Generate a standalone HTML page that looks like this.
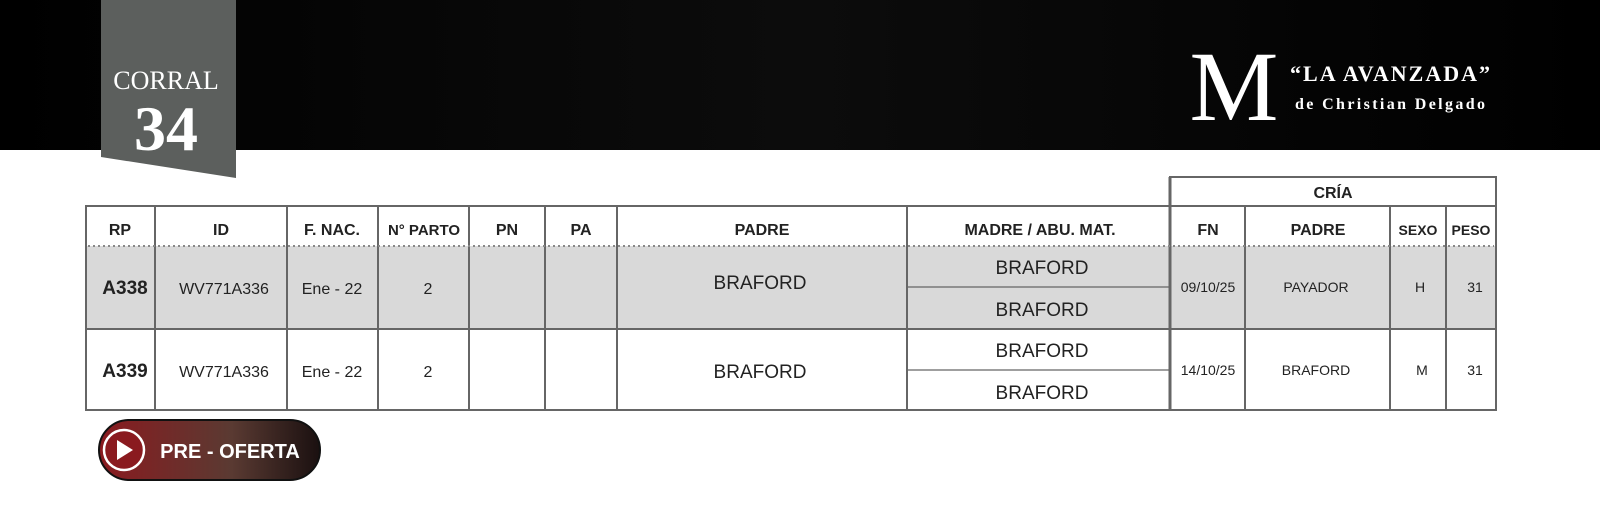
<!DOCTYPE html>
<html><head><meta charset="utf-8"><style>
body{margin:0;width:1600px;height:512px;overflow:hidden;background:#fff}
svg{display:block}
.h{font-family:"Liberation Sans",sans-serif;font-weight:bold;font-size:16px;fill:#222;text-anchor:middle}
.c{font-family:"Liberation Sans",sans-serif;font-size:16px;fill:#222;text-anchor:middle}
</style></head><body>
<svg width="1600" height="512" viewBox="0 0 1600 512">
<defs>
<linearGradient id="bg" x1="0" x2="1"><stop offset="0" stop-color="#000"/><stop offset="0.5" stop-color="#0c0c0c"/><stop offset="1" stop-color="#000"/></linearGradient>
<linearGradient id="bt" x1="0" x2="1"><stop offset="0" stop-color="#8a1a1f"/><stop offset="0.6" stop-color="#5a3a32"/><stop offset="1" stop-color="#1a1010"/></linearGradient>
</defs>
<rect x="0" y="0" width="1600" height="150" fill="url(#bg)"/>
<polygon points="101,0 236,0 236,178 101,157" fill="#5c5f5d"/>
<text x="166" y="89" font-family="Liberation Serif,serif" font-size="26" fill="#fff" text-anchor="middle">CORRAL</text>
<text x="166" y="150" font-family="Liberation Serif,serif" font-size="64" font-weight="bold" fill="#fff" text-anchor="middle">34</text>
<text x="1234" y="120" font-family="Liberation Serif,serif" font-size="100" fill="#fff" text-anchor="middle">M</text>
<text x="1390" y="81" font-family="Liberation Serif,serif" font-size="22" font-weight="bold" fill="#fff" text-anchor="middle" textLength="200">“LA AVANZADA”</text>
<text x="1390" y="109" font-family="Liberation Serif,serif" font-size="16" font-weight="bold" fill="#fff" text-anchor="middle" textLength="190">de Christian Delgado</text>
<rect x="86" y="246" width="1084" height="83" fill="#d9d9d9"/>
<rect x="1170" y="246" width="326" height="83" fill="#d9d9d9"/>
<g stroke="#666" stroke-width="2" fill="none">
<rect x="86" y="206" width="1410" height="204"/>
<rect x="1170" y="177" width="326" height="29"/>
<line x1="86" y1="329" x2="1496" y2="329"/>
<line x1="155" y1="206" x2="155" y2="410"/><line x1="287" y1="206" x2="287" y2="410"/>
<line x1="378" y1="206" x2="378" y2="410"/><line x1="469" y1="206" x2="469" y2="410"/>
<line x1="545" y1="206" x2="545" y2="410"/><line x1="617" y1="206" x2="617" y2="410"/>
<line x1="907" y1="206" x2="907" y2="410"/><line x1="1245" y1="206" x2="1245" y2="410"/>
<line x1="1390" y1="206" x2="1390" y2="410"/><line x1="1446" y1="206" x2="1446" y2="410"/>
<line x1="907" y1="287" x2="1170" y2="287" stroke-width="1.3"/>
<line x1="907" y1="370" x2="1170" y2="370" stroke-width="1.3"/>
</g>
<line x1="1170" y1="177" x2="1170" y2="410" stroke="#666" stroke-width="3"/>
<line x1="88" y1="246" x2="1494" y2="246" stroke="#888" stroke-width="2" stroke-dasharray="2,3"/>
<text class="h" x="1333" y="198">CRÍA</text>
<text class="h" x="120" y="235">RP</text><text class="h" x="221" y="235">ID</text>
<text class="h" x="332" y="235">F. NAC.</text><text class="h" x="424" y="235" font-size="15" style="font-size:15px">N° PARTO</text>
<text class="h" x="507" y="235">PN</text><text class="h" x="581" y="235">PA</text>
<text class="h" x="762" y="235">PADRE</text><text class="h" x="1040" y="235">MADRE / ABU. MAT.</text>
<text class="h" x="1208" y="235">FN</text><text class="h" x="1318" y="235">PADRE</text>
<text class="h" x="1418" y="235" style="font-size:14px">SEXO</text><text class="h" x="1471" y="235" style="font-size:14px">PESO</text>
<text class="h" x="125" y="294" style="font-size:19px">A338</text>
<text class="c" x="224" y="294">WV771A336</text>
<text class="c" x="332" y="294">Ene - 22</text>
<text class="c" x="428" y="294">2</text>
<text class="c" x="760" y="289" style="font-size:19px">BRAFORD</text>
<text class="c" x="1042" y="274" style="font-size:19px">BRAFORD</text>
<text class="c" x="1042" y="316" style="font-size:19px">BRAFORD</text>
<text class="c" x="1208" y="292" style="font-size:14px">09/10/25</text>
<text class="c" x="1316" y="292" style="font-size:14px">PAYADOR</text>
<text class="c" x="1420" y="292" style="font-size:14px">H</text>
<text class="c" x="1475" y="292" style="font-size:14px">31</text>
<text class="h" x="125" y="377" style="font-size:19px">A339</text>
<text class="c" x="224" y="377">WV771A336</text>
<text class="c" x="332" y="377">Ene - 22</text>
<text class="c" x="428" y="377">2</text>
<text class="c" x="760" y="378" style="font-size:19px">BRAFORD</text>
<text class="c" x="1042" y="357" style="font-size:19px">BRAFORD</text>
<text class="c" x="1042" y="399" style="font-size:19px">BRAFORD</text>
<text class="c" x="1208" y="375" style="font-size:14px">14/10/25</text>
<text class="c" x="1316" y="375" style="font-size:14px">BRAFORD</text>
<text class="c" x="1422" y="375" style="font-size:14px">M</text>
<text class="c" x="1475" y="375" style="font-size:14px">31</text>
<rect x="99" y="420" width="221" height="60" rx="30" fill="url(#bt)" stroke="#111" stroke-width="2"/>
<circle cx="124" cy="450" r="20" fill="#8a1a1f" stroke="#fff" stroke-width="2.5"/>
<polygon points="117,440 117,460 133,450" fill="#fff"/>
<text x="230" y="458" font-family="Liberation Sans,sans-serif" font-weight="bold" font-size="20" fill="#fff" text-anchor="middle">PRE - OFERTA</text>
</svg>
</body></html>
